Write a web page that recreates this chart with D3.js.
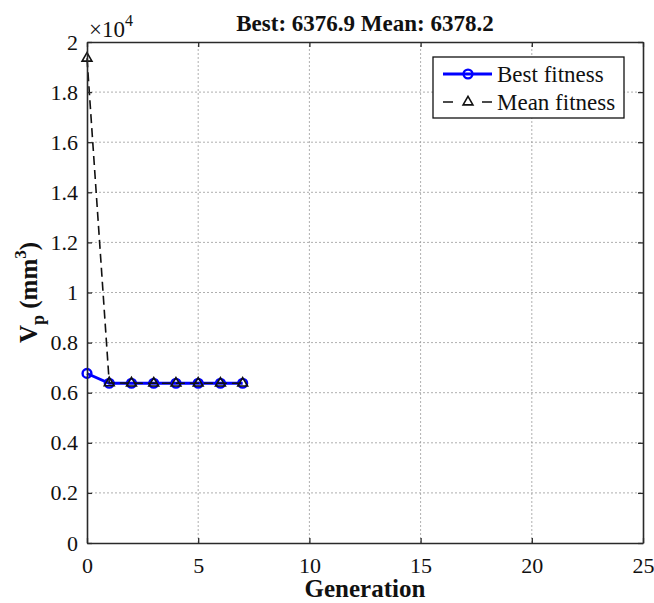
<!DOCTYPE html>
<html>
<head>
<meta charset="utf-8">
<script src="https://cdn.jsdelivr.net/npm/d3@7"></script>
</head>
<body style="margin:0">
<svg id="chart" width="654" height="603"></svg>
<script>
// Fitness history of the genetic algorithm, one value per generation
const generations = [0, 1, 2, 3, 4, 5, 6, 7];
const bestFitness = [6770, 6376.9, 6376.9, 6376.9, 6376.9, 6376.9, 6376.9, 6376.9];
const meanFitness = [19350, 6392, 6381, 6379, 6378.6, 6378.4, 6378.3, 6378.2];

const xTicks = [0, 5, 10, 15, 20, 25];
const yTicks = [0, 2000, 4000, 6000, 8000, 10000, 12000, 14000, 16000, 18000, 20000];
const seriesNames = ["Best fitness", "Mean fitness"];

const W = 654, H = 603;
const margin = { left: 87, right: 11, top: 42, bottom: 60 };
const x0 = margin.left, x1 = W - margin.right;
const y0 = H - margin.bottom, y1 = margin.top;

const svg = d3.select("#chart");
svg.style("font-family", `"Liberation Serif"`);

// every label goes through this helper so the serif face is set on the element itself
const label = (sel, size, weight) => sel
  .style("font-family", `"Liberation Serif"`)
  .style("font-size", size + "px")
  .style("font-weight", weight || "normal")
  .attr("fill", "#111");

const x = d3.scaleLinear().domain([0, 25]).range([x0, x1]);
const y = d3.scaleLinear().domain([0, 20000]).range([y0, y1]);

const fmtY = d => String(+(d / 1e4).toFixed(1));

// dotted grid
const grid = svg.append("g").attr("stroke", "#9a9a9a").attr("stroke-width", 0.8)
  .attr("stroke-dasharray", "2,2");
grid.selectAll("line.gx").data(xTicks.slice(1, -1)).join("line")
  .attr("x1", d => x(d)).attr("x2", d => x(d)).attr("y1", y0).attr("y2", y1);
grid.selectAll("line.gy").data(yTicks.slice(1, -1)).join("line")
  .attr("x1", x0).attr("x2", x1).attr("y1", d => y(d)).attr("y2", d => y(d));

// series
const best = generations.map((g, i) => [g, bestFitness[i]]);
const mean = generations.map((g, i) => [g, meanFitness[i]]);
const line = d3.line().x(d => x(d[0])).y(d => y(d[1]));

svg.append("path").datum(best).attr("d", line)
  .attr("fill", "none").attr("stroke", "#0000ff").attr("stroke-width", 2.8);
svg.append("g").selectAll("circle").data(best).join("circle")
  .attr("cx", d => x(d[0])).attr("cy", d => y(d[1])).attr("r", 4.4)
  .attr("fill", "none").attr("stroke", "#0000ff").attr("stroke-width", 2.4);

svg.append("path").datum(mean).attr("d", line)
  .attr("fill", "none").attr("stroke", "#111").attr("stroke-width", 1.6)
  .attr("stroke-dasharray", "9,5");
const tri = d3.symbol().type(d3.symbolTriangle).size(42);
svg.append("g").selectAll("path").data(mean).join("path")
  .attr("d", tri)
  .attr("transform", d => `translate(${x(d[0])},${y(d[1])})`)
  .attr("fill", "none").attr("stroke", "#111").attr("stroke-width", 1.6);

// axes (ticks pointing inward on all four sides)
const axisStyle = g => {
  g.attr("font-family", null).attr("font-size", null);
  g.select(".domain").attr("stroke", "#2a2a2a").attr("stroke-width", 1.6);
  g.selectAll(".tick line").attr("stroke", "#2a2a2a").attr("stroke-width", 1.3);
  label(g.selectAll("text"), 22);
};

svg.append("g").attr("transform", `translate(0,${y0})`)
  .call(d3.axisBottom(x).tickValues(xTicks).tickSize(-5).tickPadding(14).tickSizeOuter(0))
  .call(axisStyle);
svg.append("g").attr("transform", `translate(0,${y1})`)
  .call(d3.axisTop(x).tickValues(xTicks).tickSize(-5).tickFormat("").tickSizeOuter(0))
  .call(axisStyle);
svg.append("g").attr("transform", `translate(${x0},0)`)
  .call(d3.axisLeft(y).tickValues(yTicks).tickSize(-5).tickPadding(9).tickFormat(fmtY).tickSizeOuter(0))
  .call(axisStyle);
svg.append("g").attr("transform", `translate(${x1},0)`)
  .call(d3.axisRight(y).tickValues(yTicks).tickSize(-5).tickFormat("").tickSizeOuter(0))
  .call(axisStyle);

// exponent marker
const expo = label(svg.append("text").attr("x", 89).attr("y", 37), 23);
expo.append("tspan").text("×10");
expo.append("tspan").style("font-size", "16px").attr("dy", -11).text("4");

// title
label(svg.append("text"), 23, "bold")
  .attr("x", (x0 + x1) / 2).attr("y", 31).attr("text-anchor", "middle")
  .text(`Best: ${bestFitness[bestFitness.length - 1].toFixed(1)} Mean: ${meanFitness[meanFitness.length - 1].toFixed(1)}`);

// x label
label(svg.append("text"), 25, "bold")
  .attr("x", (x0 + x1) / 2).attr("y", 597).attr("text-anchor", "middle")
  .text("Generation");

// y label: V_p (mm^3)
const yl = label(svg.append("text"), 25, "bold")
  .attr("transform", `translate(37,${(y0 + y1) / 2}) rotate(-90)`)
  .attr("text-anchor", "middle");
yl.append("tspan").text("V");
yl.append("tspan").style("font-size", "18px").attr("dy", 7).text("p");
yl.append("tspan").attr("dy", -7).text(" (mm");
yl.append("tspan").style("font-size", "17px").attr("dy", -11).text("3");
yl.append("tspan").attr("dy", 11).text(")");

// legend
const lg = svg.append("g");
lg.append("rect").attr("x", 433).attr("y", 57).attr("width", 191).attr("height", 61)
  .attr("fill", "#fff").attr("stroke", "#111").attr("stroke-width", 1.3);
const rows = [74, 102];
lg.append("line").attr("x1", 443).attr("x2", 492).attr("y1", rows[0]).attr("y2", rows[0])
  .attr("stroke", "#0000ff").attr("stroke-width", 2.8);
lg.append("circle").attr("cx", 468).attr("cy", rows[0]).attr("r", 4.4)
  .attr("fill", "none").attr("stroke", "#0000ff").attr("stroke-width", 2.4);
lg.append("line").attr("x1", 443).attr("x2", 492).attr("y1", rows[1]).attr("y2", rows[1])
  .attr("stroke", "#111").attr("stroke-width", 1.6).attr("stroke-dasharray", "10,29,10");
lg.append("path").attr("d", tri).attr("transform", `translate(468,${rows[1]})`)
  .attr("fill", "none").attr("stroke", "#111").attr("stroke-width", 1.6);
label(lg.selectAll("text").data(seriesNames).join("text"), 23)
  .attr("x", 497).attr("y", (d, i) => rows[i] + 8).text(d => d);
</script>
</body>
</html>
